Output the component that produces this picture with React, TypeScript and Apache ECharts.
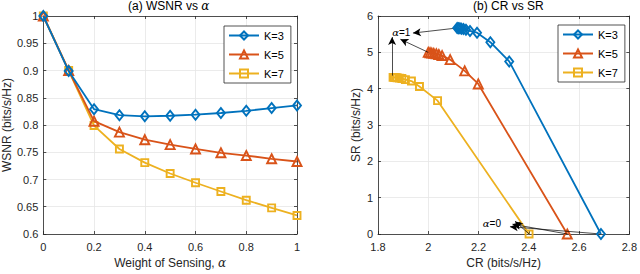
import React, { useEffect, useRef } from "react";
import * as echarts from "echarts";

const alphaValues = [0, 0.1, 0.2, 0.3, 0.4, 0.5, 0.6, 0.7, 0.8, 0.9, 1];
const wsnrK3 = [1.0, 0.899, 0.829, 0.818, 0.816, 0.817, 0.819, 0.822, 0.826, 0.831, 0.836];
const wsnrK5 = [1.0, 0.9, 0.807, 0.787, 0.773, 0.764, 0.756, 0.749, 0.744, 0.738, 0.733];
const wsnrK7 = [1.0, 0.9, 0.799, 0.756, 0.731, 0.711, 0.694, 0.678, 0.662, 0.648, 0.634];

const crK3 = [2.687, 2.322, 2.247, 2.194, 2.166, 2.15, 2.14, 2.132, 2.126, 2.12, 2.115];
const srK3 = [0, 4.75, 5.28, 5.54, 5.59, 5.62, 5.64, 5.65, 5.66, 5.665, 5.67];
const crK5 = [2.553, 2.199, 2.145, 2.087, 2.055, 2.042, 2.032, 2.022, 2.014, 2.007, 2.0];
const srK5 = [0, 4.13, 4.49, 4.8, 4.91, 4.94, 4.96, 4.97, 4.98, 4.99, 5.0];
const crK7 = [2.401, 2.037, 1.965, 1.933, 1.909, 1.895, 1.885, 1.876, 1.87, 1.865, 1.86];
const srK7 = [0, 3.67, 4.06, 4.21, 4.25, 4.28, 4.29, 4.3, 4.305, 4.31, 4.31];

const seriesNames = ["K=3", "K=5", "K=7"];
const colors = ["#0072BD", "#D95319", "#EDB120"];
const symbols = ["diamond", "triangle", "rect"];
const symbolSizes: any[] = [[8, 10], 9, 7];

const alpha1Label = [1.8925, 5.546];
const alpha0Label = [2.253, 0.293];
const alpha1Tips = [[1.939, 5.53], [1.889, 5.36], [1.856, 5.42]];
const alpha0Tips = [[2.325, 0.2], [2.335, 0.27], [2.345, 0.35]];

const FONT = "Liberation Sans, Arial, Helvetica, sans-serif";
const AXIS = "#262626";
const GRID = "#e6e6e6";

export default function App() {
  const ref = useRef<HTMLDivElement>(null);
  useEffect(() => {
    const chart = echarts.init(ref.current!, undefined, { renderer: "svg" });
    const leftData = [wsnrK3, wsnrK5, wsnrK7];
    const rightX = [crK3, crK5, crK7];
    const rightY = [srK3, srK5, srK7];

    const mkSeries = (i: number, data: number[][], xi: number, yi: number) => ({
      type: "line",
      name: seriesNames[i],
      xAxisIndex: xi,
      yAxisIndex: yi,
      data,
      symbol: symbols[i],
      symbolSize: symbolSizes[i],
      showAllSymbol: true,
      lineStyle: { color: colors[i], width: 1.8 },
      itemStyle: { color: "rgba(255,255,255,0)", borderColor: colors[i], borderWidth: 1.9 },
      emphasis: { disabled: true },
      z: 3 + (2 - i),
    });

    const series: any[] = [];
    for (let i = 0; i < 3; i++) {
      series.push(mkSeries(i, alphaValues.map((a, j) => [a, leftData[i][j]]), 0, 0));
    }
    for (let i = 0; i < 3; i++) {
      series.push(mkSeries(i, rightX[i].map((c, j) => [c, rightY[i][j]]), 1, 1));
    }
    const arrowLine = (from: number[], to: number[]) => [{ coord: from }, { coord: to }];
    series.push({
      type: "line",
      name: "annot",
      xAxisIndex: 1,
      yAxisIndex: 1,
      data: [],
      silent: true,
      z: 10,
      markLine: {
        silent: true,
        symbol: ["none", "arrow"],
        symbolSize: [6, 8],
        label: { show: false },
        lineStyle: { color: "#000", width: 0.7, type: "solid" },
        data: [
          arrowLine([crK3[10], srK3[10]], alpha1Tips[0]),
          arrowLine([crK5[10], srK5[10]], alpha1Tips[1]),
          arrowLine([crK7[10] - 0.004, srK7[10] + 0.05], alpha1Tips[2]),
          arrowLine([crK3[0], srK3[0]], alpha0Tips[0]),
          arrowLine([crK5[0], srK5[0]], alpha0Tips[1]),
          arrowLine([crK7[0], srK7[0]], alpha0Tips[2]),
        ],
      },
      markPoint: {
        silent: true,
        symbol: "circle",
        symbolSize: 0,
        label: {
          show: true,
          position: "inside",
          color: "#000",
          fontSize: 10,
          fontFamily: FONT,
          rich: { i: { fontFamily: "DejaVu Serif", fontStyle: "italic", fontSize: 10, color: "#000" } },
        },
        data: [
          { coord: alpha1Label, value: 1, label: { formatter: "{i|α}=1" } },
          { coord: alpha0Label, value: 0, label: { formatter: "{i|α}=0" } },
        ],
      },
    });

    const tickStyle = { inside: true, length: 3, lineStyle: { color: AXIS, width: 0.8 } };
    const lineAx = { show: true, onZero: false, lineStyle: { color: AXIS, width: 0.8 } };
    const labelStyle = { color: AXIS, fontSize: 11, fontFamily: FONT };
    const nameStyle = { color: AXIS, fontSize: 12, fontFamily: FONT, rich: { i: { fontFamily: "DejaVu Serif", fontStyle: "italic", fontSize: 12, color: AXIS } } };
    const split = { show: true, lineStyle: { color: GRID, width: 0.8 } };

    const option: any = {
      animation: false,
      textStyle: { fontFamily: FONT },
      title: [
        {
          text: "(a) WSNR vs {i|α}",
          left: 128,
          top: 0,
          padding: 0,
          textStyle: { fontSize: 12, fontWeight: "normal", color: "#000", fontFamily: FONT, rich: { i: { fontFamily: "DejaVu Serif", fontStyle: "italic", fontSize: 12, color: "#000" } } },
        },
        {
          text: "(b) CR vs SR",
          left: 473,
          top: 0,
          padding: 0,
          textStyle: { fontSize: 12, fontWeight: "normal", color: "#000", fontFamily: FONT },
        },
      ],
      legend: [0, 1].map((g) => ({
        data: seriesNames,
        orient: "vertical",
        left: g === 0 ? 224 : 558,
        top: g === 0 ? 26 : 25,
        itemWidth: 30,
        itemHeight: 10,
        itemGap: 8,
        padding: [4, 7, 4, 4],
        borderColor: AXIS,
        borderWidth: 0.8,
        borderRadius: 0,
        backgroundColor: "#fff",
        selectedMode: false,
        textStyle: { fontSize: 11, color: "#000", fontFamily: FONT },
        z: 20,
      })),
      grid: [
        { left: 43, top: 16, width: 254, height: 220 },
        { left: 378, top: 16, width: 254, height: 220 },
      ],
      xAxis: [
        {
          type: "value", gridIndex: 0, min: 0, max: 1, interval: 0.2,
          axisLine: lineAx, axisTick: tickStyle, splitLine: split,
          axisLabel: { ...labelStyle, margin: 7 },
          name: "Weight of Sensing, {i|α}", nameLocation: "middle", nameGap: 23, nameTextStyle: nameStyle,
        },
        {
          type: "value", gridIndex: 1, min: 1.8, max: 2.8, interval: 0.2,
          axisLine: lineAx, axisTick: tickStyle, splitLine: split,
          axisLabel: { ...labelStyle, margin: 7, formatter: (v: number) => String(Math.round(v * 10) / 10) },
          name: "CR (bits/s/Hz)", nameLocation: "middle", nameGap: 23, nameTextStyle: nameStyle,
        },
        { type: "value", gridIndex: 0, position: "top", min: 0, max: 1, interval: 0.2, axisLine: lineAx, axisTick: tickStyle, splitLine: { show: false }, axisLabel: { show: false } },
        { type: "value", gridIndex: 1, position: "top", min: 1.8, max: 2.8, interval: 0.2, axisLine: lineAx, axisTick: tickStyle, splitLine: { show: false }, axisLabel: { show: false } },
      ],
      yAxis: [
        {
          type: "value", gridIndex: 0, min: 0.6, max: 1, interval: 0.05,
          axisLine: lineAx, axisTick: tickStyle, splitLine: split,
          axisLabel: { ...labelStyle, margin: 5, formatter: (v: number) => String(Math.round(v * 100) / 100) },
          name: "WSNR (bits/s/Hz)", nameLocation: "middle", nameGap: 27, nameRotate: 90, nameTextStyle: nameStyle,
        },
        {
          type: "value", gridIndex: 1, min: 0, max: 6, interval: 1,
          axisLine: lineAx, axisTick: tickStyle, splitLine: split,
          axisLabel: { ...labelStyle, margin: 5 },
          name: "SR (bits/s/Hz)", nameLocation: "middle", nameGap: 16, nameRotate: 90, nameTextStyle: nameStyle,
        },
        { type: "value", gridIndex: 0, position: "right", min: 0.6, max: 1, interval: 0.05, axisLine: lineAx, axisTick: tickStyle, splitLine: { show: false }, axisLabel: { show: false } },
        { type: "value", gridIndex: 1, position: "right", min: 0, max: 6, interval: 1, axisLine: lineAx, axisTick: tickStyle, splitLine: { show: false }, axisLabel: { show: false } },
      ],
      series,
    };
    chart.setOption(option);
    return () => chart.dispose();
  }, []);
  return <div ref={ref} style={{ width: 640, height: 274, position: "absolute", left: 0, top: 0, background: "#fff" }} />;
}
